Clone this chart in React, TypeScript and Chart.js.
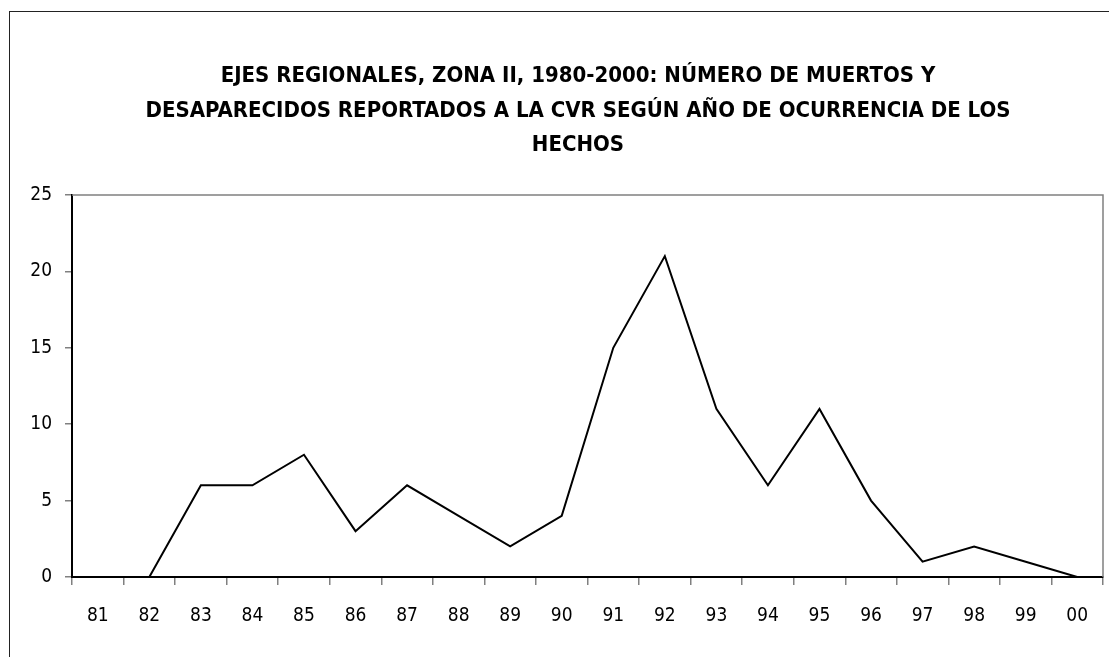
import React, { useEffect, useRef } from "react";
import { Chart, registerables } from "chart.js";

Chart.register(...registerables);

const categories = ["81", "82", "83", "84", "85", "86", "87", "88", "89", "90", "91", "92", "93", "94", "95", "96", "97", "98", "99", "00"];
const values = [0, 0, 6, 6, 8, 3, 6, 4, 2, 4, 15, 21, 11, 6, 11, 5, 1, 2, 1, 0];
const titleLines = [
  "EJES REGIONALES, ZONA II, 1980-2000: NÚMERO DE MUERTOS Y",
  "DESAPARECIDOS REPORTADOS A LA CVR SEGÚN AÑO DE OCURRENCIA DE LOS",
  "HECHOS",
];
const yMin = 0;
const yMax = 25;
const yStep = 5;

const FONT = "'Liberation Sans Narrow', 'Arial Narrow', 'DejaVu Sans Condensed', sans-serif";

const frame = {
  id: "frameBox",
  afterLayout(chart: any) {
    const t = chart.titleBlock;
    if (t) {
      t.left = 47;
      t.right = 1109;
    }
  },
  afterDraw(chart: any) {
    const { ctx, chartArea } = chart;
    ctx.save();
    ctx.strokeStyle = "#808080";
    ctx.lineWidth = 1.5;
    ctx.beginPath();
    ctx.moveTo(chartArea.left, chartArea.top);
    ctx.lineTo(chartArea.right, chartArea.top);
    ctx.lineTo(chartArea.right, chartArea.bottom);
    ctx.stroke();
    ctx.restore();
  },
};

export default function App() {
  const ref = useRef<HTMLCanvasElement | null>(null);
  useEffect(() => {
    if (!ref.current) return;
    const chart = new Chart(ref.current, {
      type: "line",
      data: {
        labels: categories,
        datasets: [
          {
            data: values,
            borderColor: "#000",
            borderWidth: 2,
            pointRadius: 0,
            tension: 0,
            fill: false,
          },
        ],
      },
      options: {
        animation: false,
        responsive: false,
        maintainAspectRatio: false,
        layout: { padding: { left: 0, right: 6, top: 0, bottom: 0 } },
        plugins: {
          legend: { display: false },
          tooltip: { enabled: false },
          title: {
            display: true,
            text: titleLines,
            color: "#000",
            font: { family: FONT, size: 22, weight: "bold", lineHeight: "34.5px" },
            padding: { top: 59.5, bottom: 32 },
          },
        },
        scales: {
          x: {
            offset: true,
            grid: {
              offset: true,
              drawOnChartArea: false,
              drawTicks: true,
              tickLength: 8,
              color: "#808080",
              lineWidth: 1.5,
            },
            border: { color: "#000", width: 2 },
            ticks: {
              color: "#000",
              font: { family: FONT, size: 19 },
              padding: 20,
              maxRotation: 0,
              autoSkip: false,
            },
            afterFit(scale: any) {
              scale.height = 80;
            },
          },
          y: {
            min: yMin,
            max: yMax,
            grid: {
              drawOnChartArea: false,
              drawTicks: true,
              tickLength: 7,
              color: "#808080",
              lineWidth: 1.5,
            },
            border: { color: "#000", width: 2 },
            ticks: {
              stepSize: yStep,
              color: "#000",
              font: { family: FONT, size: 19 },
              padding: 13,
            },
            afterFit(scale: any) {
              scale.width = 72;
            },
          },
        },
      },
      plugins: [frame],
    });
    return () => chart.destroy();
  }, []);
  return (
    <div>
      <div
        style={{
          position: "fixed",
          left: 9,
          top: 11,
          right: 0,
          bottom: 0,
          borderLeft: "1.5px solid #222",
          borderTop: "1.5px solid #222",
        }}
      />
      <canvas
        ref={ref}
        width={1109}
        height={657}
        style={{ position: "fixed", left: 0, top: 0, width: 1109, height: 657 }}
      />
    </div>
  );
}
